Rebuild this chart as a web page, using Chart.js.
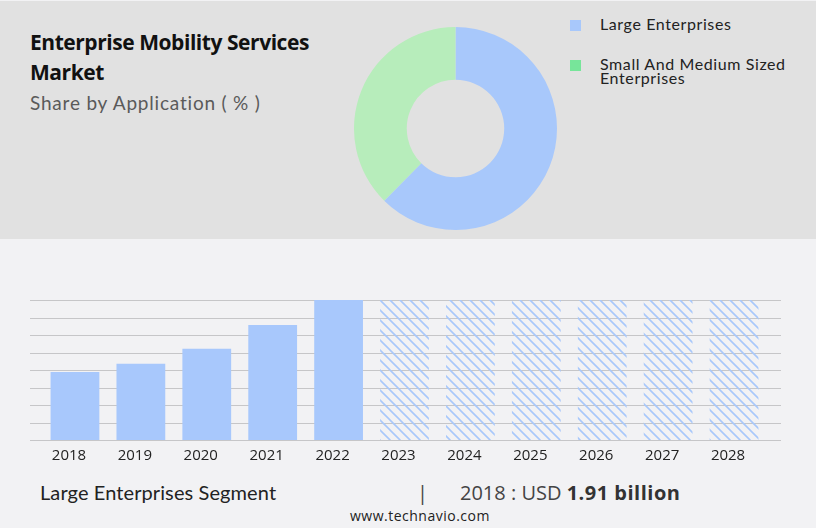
<!DOCTYPE html>
<html>
<head>
<script src="https://cdn.jsdelivr.net/npm/chart.js"></script>
<style>
    body {
        margin: 0;
        width: 816px;
        height: 528px;
        background: #f2f2f4;
        position: relative;
        overflow: hidden;
        font-family: Lato, sans-serif;
    }
    .band {
        position: absolute;
        left: 0; top: 1px;
        width: 816px; height: 238px;
        background: #e1e1e1;
    }
    .abs { position: absolute; white-space: nowrap; }
    .title {
        left: 30px; top: 27px;
        font: bold 21px/30px "Open Sans", sans-serif;
        color: #111;
        letter-spacing: -0.45px;
    }
    .subtitle {
        left: 30px; top: 92px;
        font-size: 19px; line-height: 22px;
        color: #5a5a5a;
        letter-spacing: 0.8px;
    }
    .legend { left: 570px; font-size: 16px; line-height: 14px; color: #222; letter-spacing: 0.6px; }
    .legend .box { position: absolute; left: 0; width: 11px; height: 11px; }
    .legend .txt { position: absolute; left: 30px; top: 0; }
    .seg {
        left: 40px; top: 481px;
        font-size: 20px; line-height: 23px;
        color: #222;
        letter-spacing: 0.1px;
    }
    .val {
        left: 417px; top: 480px;
        font: 20px/26px "Open Sans", sans-serif;
        color: #444;
    }
    .site {
        left: 350px; top: 506px;
        font: 14px/19px "Open Sans", sans-serif;
        color: #222;
        letter-spacing: 0.5px;
    }
    #donut { position: absolute; left: 354px; top: 27px; }
    #bars { position: absolute; left: 0; top: 290px; }
</style>
</head>
<body>
    <div class="band"></div>
    <div class="abs title">Enterprise Mobility Services<br>Market</div>
    <div class="abs subtitle">Share by Application ( % )</div>

    <div class="abs legend" style="top:17px">
        <div class="box" style="top:3px;background:#a8c8fb"></div>
        <div class="txt">Large Enterprises</div>
    </div>
    <div class="abs legend" style="top:57px">
        <div class="box" style="top:3px;background:#77e59a"></div>
        <div class="txt">Small And Medium Sized<br>Enterprises</div>
    </div>

    <canvas id="donut" width="203" height="203"></canvas>
    <canvas id="bars" width="816" height="180"></canvas>

    <div class="abs seg">Large Enterprises Segment</div>
    <div class="abs val">|<span style="margin-left:32px">2018 : USD </span><b style="color:#333;letter-spacing:0.5px">1.91 billion</b></div>
    <div class="abs site">www.technavio.com</div>

<script>
// donut data (share by application, %)
const shareLabels = ['Large Enterprises', 'Small And Medium Sized Enterprises'];
const shareValues = [62.4, 37.6];
const shareColors = ['#a8c8fb', '#b7edbb'];

// bar data (large enterprises segment, USD billion)
const years = ['2018', '2019', '2020', '2021', '2022', '2023', '2024', '2025', '2026', '2027', '2028'];
const actualValues = [1.91, 2.14, 2.56, 3.23, 3.93, null, null, null, null, null, null];
const yMax = 3.93;
// forecast years are shown as full-height hatched placeholders
const forecastValues = [null, null, null, null, null, yMax, yMax, yMax, yMax, yMax, yMax];

new Chart(document.getElementById('donut'), {
    type: 'doughnut',
    data: {
        labels: shareLabels,
        datasets: [{
            data: shareValues,
            backgroundColor: shareColors,
            borderWidth: 0
        }]
    },
    options: {
        responsive: false,
        animation: false,
        cutout: '48%',
        layout: { padding: 0 },
        plugins: { legend: { display: false }, tooltip: { enabled: false } }
    }
});

// diagonal hatch for forecast bars
function makeHatch(color) {
    const c = document.createElement('canvas');
    c.width = 10; c.height = 10;
    const g = c.getContext('2d');
    g.strokeStyle = color;
    g.lineWidth = 1.6;
    g.beginPath();
    g.moveTo(0, 0); g.lineTo(10, 10);
    g.moveTo(-2, 8); g.lineTo(2, 12);
    g.moveTo(8, -2); g.lineTo(12, 2);
    g.stroke();
    return g.createPattern(c, 'repeat');
}

// horizontal grid drawn a little wider than the plot area, behind the bars
const wideGrid = {
    id: 'wideGrid',
    beforeDatasetsDraw(chart) {
        const y = chart.scales.y;
        const ctx = chart.ctx;
        ctx.save();
        ctx.strokeStyle = '#c6c6c8';
        ctx.lineWidth = 1.2;
        y.ticks.forEach(t => {
            const py = Math.round(y.getPixelForValue(t.value)) + 0.5;
            ctx.beginPath();
            ctx.moveTo(30, py);
            ctx.lineTo(781, py);
            ctx.stroke();
        });
        ctx.restore();
    }
};

new Chart(document.getElementById('bars'), {
    type: 'bar',
    data: {
        labels: years,
        datasets: [{
            data: actualValues,
            backgroundColor: '#a8c8fc',
            grouped: false,
            barPercentage: 0.74,
            categoryPercentage: 1
        }, {
            data: forecastValues,
            backgroundColor: makeHatch('#a8c8fb'),
            grouped: false,
            barPercentage: 0.74,
            categoryPercentage: 1
        }]
    },
    options: {
        responsive: false,
        animation: false,
        layout: { padding: { left: 42, right: 49, top: 10, bottom: 0 } },
        plugins: { legend: { display: false }, tooltip: { enabled: false } },
        scales: {
            x: {
                grid: { display: false, drawTicks: false },
                border: { display: false },
                afterFit: s => { s.height = 30; },
                ticks: {
                    padding: 7,
                    labelOffset: -6,
                    color: '#222',
                    font: { family: 'Open Sans', size: 15 }
                }
            },
            y: {
                display: false,
                min: 0,
                max: yMax,
                ticks: { count: 9 }
            }
        }
    },
    plugins: [wideGrid]
});
</script>
</body>
</html>
